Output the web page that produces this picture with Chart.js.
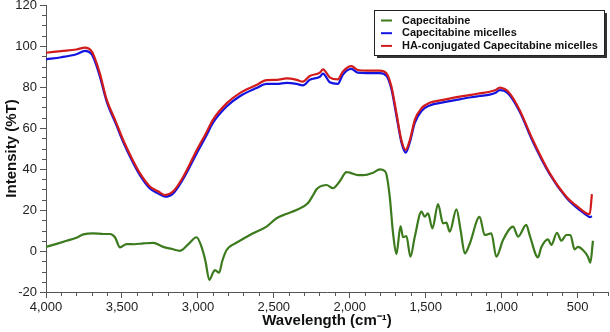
<!DOCTYPE html>
<html>
<head>
<meta charset="utf-8">
<script src="https://cdn.jsdelivr.net/npm/chart.js@4.4.1/dist/chart.umd.min.js"></script>
<style>
  html, body { margin: 0; padding: 0; background: #fff; }
</style>
</head>
<body>
<canvas id="ftirChart" width="610" height="332"></canvas>
<script>
// Wavenumbers (cm-1) shared by the two micelle spectra
const micelleWn = [4000, 3900, 3800, 3743, 3700, 3678, 3645, 3601, 3540, 3491, 3440, 3382, 3316, 3260, 3217,
  3164, 3098, 3009, 2950, 2901, 2811, 2724, 2614, 2548, 2480, 2416, 2350, 2309, 2263, 2197, 2176, 2132, 2079,
  2046, 1989, 1947, 1890, 1803, 1759, 1726, 1693, 1660, 1632, 1605, 1572, 1528, 1474, 1386, 1276, 1200, 1145,
  1079, 1040, 1013, 980, 947, 882, 794, 684, 574, 487, 443, 420, 406];

// HA-conjugated Capecitabine micelles (%T)
const haMicelles = [96.7, 97.5, 98.3, 99.2, 97.5, 94, 86.5, 74, 63, 54, 46, 38, 31.5, 29, 27.3,
  29, 36, 49, 57, 64, 72, 77, 81, 83.4, 83.5, 84.2, 83.5, 82.6, 85.4, 87, 88.6, 84.7, 83.7,
  87.5, 90.2, 88.3, 88, 88, 86.7, 80.2, 67.3, 54, 49.3, 54, 64, 69.6, 72.3, 73.7, 75.3, 76.2, 76.9,
  77.7, 78.5, 79.7, 79, 76.9, 68.8, 54, 38, 26.5, 20.8, 18.4, 18, 27.8];

// Capecitabine micelles (%T)
const capMicelles = [93.5, 94.5, 96, 97.6, 96, 92.5, 85, 73, 62, 53, 45, 37, 30.5, 28, 26.5,
  28, 35, 47.5, 55.5, 62.5, 70.5, 75.5, 79.5, 81.5, 81.5, 82, 81.5, 80.8, 83.5, 85, 86.5, 82.3, 81.5,
  86, 88.8, 87, 86.8, 86.8, 85.5, 79, 66, 53, 48, 53, 62.5, 68.3, 71, 72.5, 74, 75, 75.6,
  76.3, 77.2, 78.5, 78, 76, 68, 53.2, 37.5, 26, 20, 17.6, 16.5, 17];

// Free Capecitabine
const capWn = [4000, 3930, 3864, 3800, 3754, 3689, 3620, 3579, 3546, 3513, 3469, 3420, 3360, 3294, 3228,
  3170, 3118, 3060, 3009, 2976, 2950, 2925, 2900, 2888, 2860, 2840, 2811, 2760, 2724, 2640, 2548, 2482,
  2420, 2351, 2280, 2241, 2220, 2197, 2154, 2110, 2066, 2022, 2000, 1945, 1912, 1846, 1803, 1770, 1759,
  1737, 1715, 1693, 1666, 1649, 1627, 1601, 1572, 1528, 1507, 1485, 1456, 1419, 1386, 1364, 1342, 1298,
  1270, 1243, 1211, 1145, 1112, 1068, 1035, 991, 925, 892, 838, 816, 761, 739, 695, 673, 636, 607, 574,
  548, 520, 498, 465, 432, 416, 399];
const capecitabine = [2, 3.5, 5, 6.5, 8.1, 8.6, 8.3, 8.3, 6.7, 1.8, 3.4, 3.3, 3.7, 4, 2,
  1, 0.1, 3.5, 6.7, 2, -5, -14.1, -10.5, -9.3, -10.6, -5, 0.5, 3.5, 5, 8.5, 11.9, 16,
  18, 20, 23, 27.3, 30, 31.4, 32.2, 30.6, 34, 38.5, 38.2, 37, 37, 38.2, 39.8, 39, 37.5,
  26.5, 8.6, -1.5, 12.2, 6.7, 7.3, -2.8, 7, 19.2, 16.7, 18.4, 11, 22.9, 13.5, 13.8, 9.4, 20.3,
  10, -1.2, 3.4, 16.7, 7.8, 8.6, -2.8, 5.4, 11.9, 7, 12.7, 7.8, -3.1, 1.8, 5.7, 3, 8.9, 5, 7.8,
  7.8, 0.8, 2, 0.5, -2.8, -5.7, 5];

// Axis ticks
const xTicks = [4000, 3500, 3000, 2500, 2000, 1500, 1000, 500];
const yTicks = [-20, 0, 20, 40, 60, 80, 100, 120];

const FONT = "'Liberation Sans', Arial, sans-serif";
const AXIS_COLOR = "#555";

function toPoints(xs, ys) {
    return xs.map((x, i) => ({ x: x, y: ys[i] }));
}

// minor tick marks (every 100 cm-1 and every 5 %T)
const minorTicks = {
    id: "minorTicks",
    afterDraw(chart) {
        const ctx = chart.ctx;
        const xs = chart.scales.x;
        const ys = chart.scales.y;
        const area = chart.chartArea;
        ctx.save();
        ctx.strokeStyle = AXIS_COLOR;
        ctx.lineWidth = 1;
        ctx.beginPath();
        for (let v = 300; v < 4000; v += 100) {
            if (v % 500 === 0) continue;
            const px = Math.round(xs.getPixelForValue(v)) + 0.5;
            ctx.moveTo(px, area.bottom);
            ctx.lineTo(px, area.bottom + 4);
        }
        for (let v = -15; v < 120; v += 5) {
            if (v % 20 === 0) continue;
            const py = Math.round(ys.getPixelForValue(v)) + 0.5;
            ctx.moveTo(area.left - 4, py);
            ctx.lineTo(area.left, py);
        }
        ctx.stroke();
        ctx.restore();
    },
};

// boxed legend with drop shadow in the top right corner
const boxLegend = {
    id: "boxLegend",
    afterDraw(chart) {
        const ctx = chart.ctx;
        const area = chart.chartArea;
        const w = 230, h = 45;
        const left = area.right - w - 4, top = area.top + 5;
        ctx.save();
        ctx.fillStyle = "#333";
        ctx.fillRect(left + 3, top + 3, w, h);
        ctx.fillStyle = "#fff";
        ctx.fillRect(left, top, w, h);
        ctx.strokeStyle = "#222";
        ctx.lineWidth = 1;
        ctx.strokeRect(left + 0.5, top + 0.5, w, h);

        // shrink the font so the longest label fits the box
        const labels = chart.data.datasets.map((d) => d.label);
        ctx.font = "bold 12px " + FONT;
        const widest = Math.max(...labels.map((l) => ctx.measureText(l).width));
        const size = Math.min(12, 12 * 196 / widest);
        ctx.font = "bold " + size.toFixed(2) + "px " + FONT;
        ctx.textBaseline = "middle";
        chart.data.datasets.forEach((ds, i) => {
            const cy = top + 10.5 + i * 12.7;
            ctx.strokeStyle = ds.borderColor;
            ctx.lineWidth = 2;
            ctx.beginPath();
            ctx.moveTo(left + 7, cy);
            ctx.lineTo(left + 18, cy);
            ctx.stroke();
            ctx.fillStyle = "#111";
            ctx.fillText(ds.label, left + 28, cy);
        });
        ctx.restore();
    },
};

const ctx = document.getElementById("ftirChart").getContext("2d");
const ftirChart = new Chart(ctx, {
    type: "line",
    data: {
        datasets: [
            {
                label: "Capecitabine",
                data: toPoints(capWn, capecitabine),
                borderColor: "#3c7a1e",
                order: 0,
            },
            {
                label: "Capecitabine micelles",
                data: toPoints(micelleWn, capMicelles),
                borderColor: "#1414e0",
                order: 2,
            },
            {
                label: "HA-conjugated Capecitabine micelles",
                data: toPoints(micelleWn, haMicelles),
                borderColor: "#d21c1c",
                order: 1,
            },
        ],
    },
    options: {
        responsive: false,
        animation: false,
        devicePixelRatio: 1,
        layout: { padding: { top: 5, right: 2, left: 0, bottom: 0 } },
        elements: {
            point: { radius: 0 },
            line: { borderWidth: 2.2, cubicInterpolationMode: "monotone", fill: false },
        },
        plugins: {
            legend: { display: false },
            tooltip: { enabled: false },
        },
        scales: {
            x: {
                type: "linear",
                reverse: true,
                min: 300,
                max: 4000,
                afterBuildTicks: (s) => { s.ticks = xTicks.map((v) => ({ value: v })); },
                afterFit: (s) => { s.height = 40; s.paddingLeft = 0; s.paddingRight = 0; },
                border: { display: true, color: AXIS_COLOR, width: 1 },
                grid: { drawOnChartArea: false, drawTicks: true, tickLength: 6, color: AXIS_COLOR },
                ticks: {
                    font: { family: FONT, size: 13 },
                    color: "#222",
                    padding: 2,
                    maxRotation: 0,
                    autoSkip: false,
                    callback: (v) => v.toLocaleString("en-US"),
                },
                title: {
                    display: true,
                    text: "Wavelength (cm\u207B\u00B9)",
                    font: { family: FONT, size: 15, weight: "bold" },
                    color: "#111",
                    padding: { top: 0, bottom: 2 },
                },
            },
            y: {
                min: -20,
                max: 120,
                afterBuildTicks: (s) => { s.ticks = yTicks.map((v) => ({ value: v })); },
                afterFit: (s) => { s.width = 46; s.paddingTop = 0; s.paddingBottom = 0; },
                border: { display: true, color: AXIS_COLOR, width: 1 },
                grid: { drawOnChartArea: false, drawTicks: true, tickLength: 6, color: AXIS_COLOR },
                ticks: {
                    font: { family: FONT, size: 13 },
                    color: "#222",
                    padding: 3,
                },
                title: {
                    display: true,
                    text: "Intensity (%T)",
                    font: { family: FONT, size: 15, weight: "bold" },
                    color: "#111",
                    padding: { top: 3, bottom: 0 },
                },
            },
        },
    },
    plugins: [minorTicks, boxLegend],
});
</script>
</body>
</html>
